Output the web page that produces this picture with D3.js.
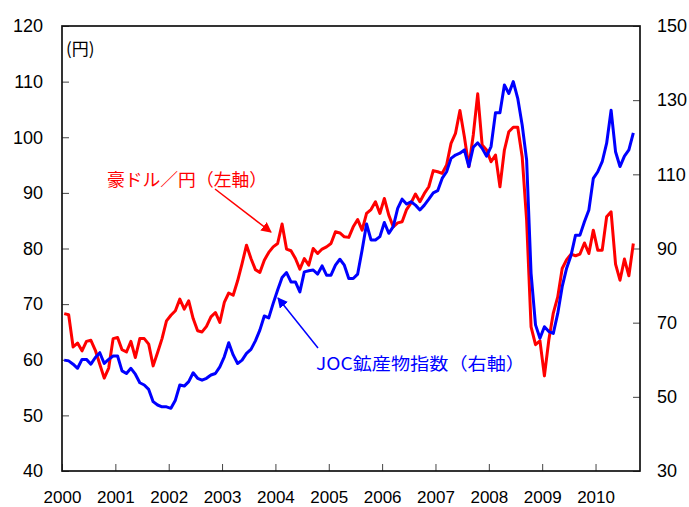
<!DOCTYPE html>
<html><head><meta charset="utf-8">
<script src="https://cdn.jsdelivr.net/npm/d3@7"></script>
<style>
html,body{margin:0;padding:0;background:#fff;}
svg{display:block;}
</style></head>
<body>
<svg id="chart" width="689" height="507"></svg>
<script>
// Monthly data, Jan 2000 .. Sep 2010
const startYear = 2000;
const yearLabels = ["2000","2001","2002","2003","2004","2005","2006","2007","2008","2009","2010"];
const leftTicks = [40,50,60,70,80,90,100,110,120];
const rightTicks = [30,50,70,90,110,130,150];

// AUD/JPY (left axis, yen)
const audJpy = [
 68.3,68.1,62.3,63.0,61.6,63.3,63.5,61.7,59.2,56.7,58.5,63.8,
 64.0,61.8,61.4,63.3,60.4,63.8,63.8,62.8,58.9,61.3,63.8,67.0,
 68.0,68.8,70.9,69.1,70.6,67.4,65.2,65.0,66.0,67.7,68.5,66.7,
 70.3,72.0,71.6,74.2,77.3,80.6,78.2,76.2,75.7,77.9,79.3,80.3,
 80.9,84.4,79.9,79.6,78.2,76.3,78.2,77.0,80.0,79.1,79.9,80.3,
 80.9,83.0,82.8,82.1,82.0,83.9,85.2,83.3,86.3,87.0,88.4,86.3,
 89.0,86.0,83.9,84.6,84.8,87.0,88.2,89.8,88.4,89.9,91.1,94.0,
 93.8,93.5,95.0,98.9,100.7,104.8,100.1,94.7,100.4,107.8,98.6,97.7,
 95.6,96.8,91.1,97.7,101.0,101.8,101.8,96.5,85.1,65.9,62.7,63.4,
 57.1,63.6,68.4,71.3,76.4,78.0,79.0,78.7,79.0,81.0,79.1,83.3,
 79.7,79.7,85.7,86.6,77.2,74.3,78.1,75.1,80.9
];

// JOC mineral index (right axis)
const jocIndex = [
 59.9,59.7,58.8,57.7,60.1,60.1,58.8,60.6,61.9,59.0,60.1,61.0,
 61.0,57.0,56.3,57.7,56.1,53.8,53.2,52.0,48.7,47.8,47.3,47.3,
 46.9,49.1,53.2,52.9,54.1,56.5,55.0,54.5,55.0,55.9,56.3,58.1,
 60.8,64.6,61.3,59.0,59.9,61.7,62.8,65.1,68.0,71.8,71.3,75.2,
 78.8,82.2,83.5,81.0,81.0,78.3,83.7,84.0,84.2,83.1,85.3,82.8,
 82.8,85.5,87.1,85.5,81.9,81.9,83.1,89.6,96.6,92.3,92.3,93.2,
 97.0,94.1,95.9,100.8,103.3,102.0,102.6,101.7,100.4,101.7,103.3,105.0,
 105.6,108.9,110.7,114.3,115.2,115.7,116.6,112.1,117.3,118.5,117.0,114.9,
 117.5,126.6,126.6,134.1,131.8,135.0,130.5,123.3,113.9,83.3,69.4,65.8,
 68.9,67.6,67.1,72.5,79.7,84.7,88.2,93.6,93.6,97.2,100.4,108.9,
 110.7,113.4,118.4,127.3,116.1,112.1,114.9,116.6,121.2
];

const svg = d3.select("#chart");
const L = 62, R = 640, T = 26, B = 471;
const x = d3.scaleLinear().domain([0,130]).range([L,R]);
const yL = d3.scaleLinear().domain([40,120]).range([B,T]);
const yR = d3.scaleLinear().domain([30,150]).range([B,T]);
const numFont = "'Liberation Sans', Arial, sans-serif";
const jpFont = "'Noto Sans CJK JP', sans-serif";

// axes
const gL = svg.append("g").attr("transform",`translate(${L},0)`)
  .call(d3.axisLeft(yL).tickValues(leftTicks).tickSizeInner(-7).tickSizeOuter(0).tickPadding(19));
const gR = svg.append("g").attr("transform",`translate(${R},0)`)
  .call(d3.axisRight(yR).tickValues(rightTicks).tickSizeInner(-7).tickSizeOuter(0).tickPadding(17));
const gB = svg.append("g").attr("transform",`translate(0,${B})`)
  .call(d3.axisBottom(x).tickValues(yearLabels.map((d,i)=>i*12)).tickFormat((d,i)=>yearLabels[i])
        .tickSizeInner(-7).tickSizeOuter(0).tickPadding(20));
[gL,gR].forEach(g=>{
  g.selectAll("text").attr("font-size",18);
});
gB.selectAll("text").attr("font-size",17);
[gL,gR,gB].forEach(g=>{
  g.select(".domain").remove();
  g.selectAll(".tick line").attr("stroke","#444").attr("stroke-width",1);
  g.selectAll("text").attr("font-family",numFont).attr("fill","#000");
});

// frame
svg.append("rect").attr("x",L).attr("y",T).attr("width",R-L).attr("height",B-T)
  .attr("fill","none").attr("stroke","#111").attr("stroke-width",1.7);

// lines
const lineL = d3.line().x((d,i)=>x(i+0.5)).y(d=>yL(d));
const lineR = d3.line().x((d,i)=>x(i+0.5)).y(d=>yR(d));
svg.append("path").datum(audJpy).attr("d",lineL).attr("fill","none")
  .attr("stroke","#ff0000").attr("stroke-width",3).attr("stroke-linejoin","round");
svg.append("path").datum(jocIndex).attr("d",lineR).attr("fill","none")
  .attr("stroke","#0000ff").attr("stroke-width",3).attr("stroke-linejoin","round");

// markers
const defs = svg.append("defs");
[["arR","#ff0000"],["arB","#0000ff"]].forEach(([id,c])=>{
  defs.append("marker").attr("id",id).attr("viewBox","0 0 10 10").attr("refX",9).attr("refY",5)
    .attr("markerWidth",7).attr("markerHeight",7).attr("orient","auto")
    .append("path").attr("d","M0,0 L10,5 L0,10 Z").attr("fill",c);
});

// annotations
svg.append("text").attr("x",66).attr("y",55).attr("font-family",jpFont).attr("font-size",17)
  .attr("fill","#000").text("(円)");
svg.append("text").attr("x",107).attr("y",186).attr("font-family",jpFont).attr("font-size",17.5)
  .attr("fill","#ff0000").attr("textLength",160).attr("lengthAdjust","spacingAndGlyphs").text("豪ドル／円（左軸）");
svg.append("line").attr("x1",215).attr("y1",189).attr("x2",271).attr("y2",232)
  .attr("stroke","#ff0000").attr("stroke-width",1.5).attr("marker-end","url(#arR)");
svg.append("text").attr("x",316).attr("y",370).attr("font-family",jpFont).attr("font-size",17.5)
  .attr("fill","#0000ff").attr("textLength",209).attr("lengthAdjust","spacingAndGlyphs").text("JOC鉱産物指数（右軸）");
svg.append("line").attr("x1",318).attr("y1",348).attr("x2",278).attr("y2",298)
  .attr("stroke","#0000ff").attr("stroke-width",1.5).attr("marker-end","url(#arB)");
</script>
</body></html>
